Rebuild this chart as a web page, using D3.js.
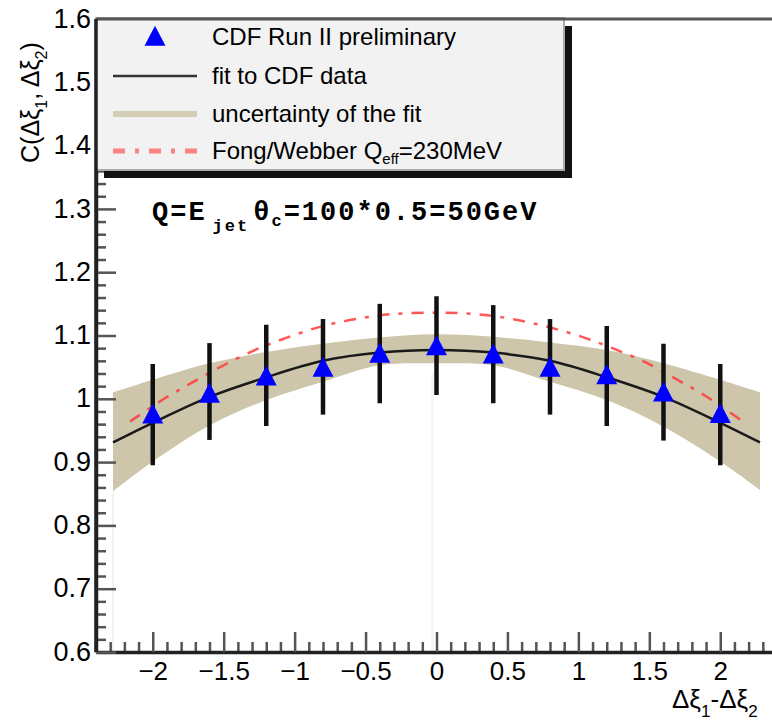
<!DOCTYPE html>
<html>
<head>
<meta charset="utf-8">
<script src="https://cdn.jsdelivr.net/npm/d3@7"></script>
<style>
  body { margin: 0; background: #fff; }
  svg { display: block; font-family: "Liberation Sans", Arial, sans-serif; }
  .axis path, .axis line { stroke: #333; }
  .axis text { fill: #000; }
</style>
</head>
<body>
<svg id="canvas1" width="772" height="721"></svg>
<script>
// data points (CDF Run II preliminary)
var xPts   = [-2, -1.6, -1.2, -0.8, -0.4, 0, 0.4, 0.8, 1.2, 1.6, 2];
var cVal   = [0.973, 1.006, 1.033, 1.047, 1.069, 1.081, 1.068, 1.047, 1.035, 1.008, 0.974];
var errHi  = [1.055, 1.088, 1.117, 1.126, 1.150, 1.162, 1.148, 1.126, 1.115, 1.087, 1.055];
var errLo  = [0.895, 0.935, 0.957, 0.975, 0.993, 1.006, 0.993, 0.975, 0.957, 0.934, 0.895];

// fit and its uncertainty band
var fitX   = [-2.28, -2, -1.6, -1.2, -0.8, -0.4, 0, 0.4, 0.8, 1.2, 1.6, 2, 2.28];
var fitC   = [0.931, 0.962, 1.003, 1.034, 1.060, 1.073, 1.077, 1.073, 1.060, 1.034, 1.003, 0.962, 0.931];
var bandHi = [1.010, 1.030, 1.056, 1.074, 1.087, 1.097, 1.102, 1.098, 1.089, 1.077, 1.056, 1.030, 1.010];
var bandLo = [0.854, 0.901, 0.958, 0.998, 1.027, 1.053, 1.056, 1.053, 1.027, 0.998, 0.956, 0.901, 0.856];

// Fong/Webber prediction
var fwX = [-2.16, -1.92, -1.72, -1.5, -1.27, -1.05, -0.8, -0.54, -0.3, 0, 0.27, 0.51, 0.76, 1.01, 1.24, 1.46, 1.69, 1.9, 2.16];
var fwC = [0.964, 1.0, 1.026, 1.053, 1.078, 1.097, 1.115, 1.127, 1.134, 1.136, 1.134, 1.127, 1.115, 1.099, 1.08, 1.059, 1.031, 1.004, 0.964];

var xMajor = [-2, -1.5, -1, -0.5, 0, 0.5, 1, 1.5, 2];
var yMajor = [0.6, 0.7, 0.8, 0.9, 1, 1.1, 1.2, 1.3, 1.4, 1.5, 1.6];
var legendLabels = ["CDF Run II preliminary", "fit to CDF data", "uncertainty of the fit", "Fong/Webber Q"];

var svg1 = d3.select("#canvas1");

var x = d3.scaleLinear().domain([-2.4, 2.4]).range([96, 777]);
var y = d3.scaleLinear().domain([0.6, 1.6]).range([652, 19]);

var pts = xPts.map(function(d, i) { return {x: d, c: cVal[i], hi: errHi[i], lo: errLo[i]}; });
var fit = fitX.map(function(d, i) { return {x: d, c: fitC[i], hi: bandHi[i], lo: bandLo[i]}; });
var fw  = fwX.map(function(d, i) { return {x: d, c: fwC[i]}; });

var g = svg1.append("g");

// uncertainty band
var band = d3.area()
    .x(function(d) { return x(d.x); })
    .y0(function(d) { return y(d.lo); })
    .y1(function(d) { return y(d.hi); })
    .curve(d3.curveCatmullRom);

g.append("path")
    .attr("d", band(fit))
    .style("fill", "#cdc6aa");

// faint edges left by the band
g.selectAll(".edge")
    .data([fit[0], {x: -0.03, lo: 1.04}])
    .enter().append("line")
    .attr("x1", function(d) { return x(d.x); })
    .attr("x2", function(d) { return x(d.x); })
    .attr("y1", function(d) { return y(d.lo); })
    .attr("y2", y(0.6))
    .style("stroke", "#f3f3ee")
    .style("stroke-width", 2);

// Fong/Webber
var curveLine = d3.line()
    .x(function(d) { return x(d.x); })
    .y(function(d) { return y(d.c); })
    .curve(d3.curveCatmullRom);

g.append("path")
    .attr("d", curveLine(fw))
    .style("fill", "none")
    .style("stroke", "#ff3a3a")
    .style("stroke-width", 2.5)
    .style("stroke-dasharray", "12,9,4,9")
    .style("opacity", 0.85);

// fit line
g.append("path")
    .attr("d", curveLine(fit))
    .style("fill", "none")
    .style("stroke", "#1a1a1a")
    .style("stroke-width", 2.5);

// error bars
g.selectAll(".err")
    .data(pts)
    .enter().append("line")
    .attr("x1", function(d) { return x(d.x); })
    .attr("x2", function(d) { return x(d.x); })
    .attr("y1", function(d) { return y(d.hi); })
    .attr("y2", function(d) { return y(d.lo); })
    .style("stroke", "#111")
    .style("stroke-width", 4.5);

var tri = d3.symbol().type(d3.symbolTriangle).size(190);

g.selectAll(".pt")
    .data(pts)
    .enter().append("path")
    .attr("d", tri)
    .attr("transform", function(d) { return "translate(" + x(d.x) + "," + (y(d.c) + 1) + ") scale(1,1.1)"; })
    .style("fill", "#0000ff");

// axes, ticks pointing inwards
var xMinor = d3.range(-23, 24).map(function(d) { return d / 10; })
    .filter(function(d) { return Math.abs(d * 2 - Math.round(d * 2)) > 1e-6; });
var yMinor = d3.range(30, 81).map(function(d) { return d / 50; })
    .filter(function(d) { return Math.abs(d * 10 - Math.round(d * 10)) > 1e-6; });

g.append("g")
    .attr("class", "axis")
    .attr("transform", "translate(0," + y(0.6) + ")")
    .call(d3.axisBottom(x).tickValues(xMinor).tickSize(-10).tickFormat(""))
    .call(function(s) { s.select(".domain").remove(); s.selectAll("line").style("stroke-width", 2.5).style("stroke", "#555"); });

g.append("g")
    .attr("class", "axis")
    .attr("transform", "translate(0," + y(0.6) + ")")
    .call(d3.axisBottom(x).tickValues(xMajor).tickSizeInner(-20).tickSizeOuter(0).tickPadding(10)
        .tickFormat(function(d) { return d3.format("")(d); }))
    .call(function(s) {
        s.select(".domain").style("stroke-width", 3.5).style("stroke", "#222");
        s.selectAll("line").style("stroke-width", 2.5).style("stroke", "#555");
        s.selectAll("text").style("font-size", "26px");
    });

g.append("g")
    .attr("class", "axis")
    .attr("transform", "translate(" + x(-2.4) + ",0)")
    .call(d3.axisLeft(y).tickValues(yMinor).tickSize(-10).tickFormat(""))
    .call(function(s) { s.select(".domain").remove(); s.selectAll("line").style("stroke-width", 2.5).style("stroke", "#555"); });

g.append("g")
    .attr("class", "axis")
    .attr("transform", "translate(" + x(-2.4) + ",0)")
    .call(d3.axisLeft(y).tickValues(yMajor).tickSizeInner(-20).tickSizeOuter(0).tickPadding(5)
        .tickFormat(function(d) { return d3.format("")(d); }))
    .call(function(s) {
        s.select(".domain").style("stroke-width", 3.5).style("stroke", "#222");
        s.selectAll("line").style("stroke-width", 2.5).style("stroke", "#555");
        s.selectAll("text").style("font-size", "27px").attr("dy", "0.3em");
    });

// legend with shadow
var lx = x(-2.4), ly = y(1.6) - 1, lw = 468, lh = 152;
g.append("rect").attr("x", lx + 8).attr("y", ly + 8).attr("width", lw).attr("height", lh).style("fill", "#111");
g.append("rect").attr("x", lx).attr("y", ly).attr("width", lw).attr("height", lh)
    .style("fill", "#f2f2f2").style("stroke", "#aaa").style("stroke-width", 2);

// top frame line
g.append("line")
    .attr("x1", x(-2.4)).attr("x2", 772)
    .attr("y1", y(1.6)).attr("y2", y(1.6))
    .style("stroke", "#555").style("stroke-width", 3);
g.append("line")
    .attr("x1", x(-2.4)).attr("x2", x(-2.4))
    .attr("y1", y(1.6)).attr("y2", y(0.6))
    .style("stroke", "#222").style("stroke-width", 3.5);

var rows = [37, 76, 114, 151];
var leg = g.append("g");
leg.append("path").attr("d", tri).attr("transform", "translate(155," + (rows[0] + 2) + ") scale(1,1.1)").style("fill", "#0000ff");
leg.append("line").attr("x1", 113).attr("x2", 197).attr("y1", rows[1]).attr("y2", rows[1])
    .style("stroke", "#333").style("stroke-width", 2.5);
leg.append("line").attr("x1", 113).attr("x2", 197).attr("y1", rows[2]).attr("y2", rows[2])
    .style("stroke", "#d4ceb6").style("stroke-width", 6);
leg.append("line").attr("x1", 113).attr("x2", 197).attr("y1", rows[3]).attr("y2", rows[3])
    .style("stroke", "#ff5555").style("stroke-width", 5).style("opacity", 0.7)
    .style("stroke-dasharray", "12,10,4,10");

var lt = leg.selectAll(".lt")
    .data(legendLabels)
    .enter().append("text")
    .attr("x", 212)
    .attr("y", function(d, i) { return rows[i] + 8; })
    .style("font-size", "24px")
    .text(function(d) { return d; });
d3.select(lt.nodes()[3]).append("tspan").attr("dy", 5).style("font-size", "15px").text("eff");
d3.select(lt.nodes()[3]).append("tspan").attr("dy", -5).text("=230MeV");

// annotation
var ann = g.append("text")
    .attr("x", 152).attr("y", 220)
    .style("font-family", "'Liberation Mono', 'DejaVu Sans Mono', monospace")
    .style("font-weight", "bold")
    .style("font-size", "27px")
    .style("letter-spacing", "2px");
ann.append("tspan").text("Q=E");
ann.append("tspan").attr("dy", 11).attr("dx", 6).style("font-size", "17px").text("jet");
ann.append("tspan").attr("dy", -11).attr("dx", 4).text("θ");
ann.append("tspan").attr("dy", 6).style("font-size", "17px").text("c");
ann.append("tspan").attr("dy", -6).text("=100*0.5=50GeV");

// axis titles
var xt = g.append("text").attr("x", 672).attr("y", 708).style("font-size", "26px");
xt.append("tspan").text("Δξ");
xt.append("tspan").attr("dy", 9).style("font-size", "17px").text("1");
xt.append("tspan").attr("dy", -9).text("-Δξ");
xt.append("tspan").attr("dy", 9).style("font-size", "17px").text("2");

var yt = g.append("text").attr("transform", "translate(39,163) rotate(-90)").style("font-size", "25px");
yt.append("tspan").text("C(Δξ");
yt.append("tspan").attr("dy", 8).style("font-size", "16px").text("1");
yt.append("tspan").attr("dy", -8).text(", Δξ");
yt.append("tspan").attr("dy", 8).style("font-size", "16px").text("2");
yt.append("tspan").attr("dy", -8).text(")");
</script>
</body>
</html>
